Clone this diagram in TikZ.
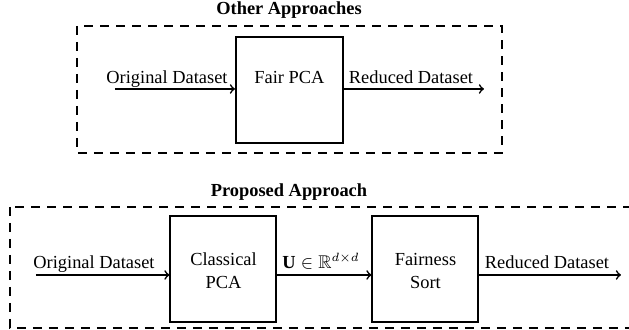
\documentclass[tikz,border=0pt]{standalone}
\usepackage{fontspec}
\setmainfont{Liberation Serif}
\usepackage{amssymb}
\begin{document}
\begin{tikzpicture}[x=0.5pt,y=-0.5pt,
  font=\fontsize{9.2}{10.5}\selectfont,
  dbox/.style={draw,line width=1pt,dash pattern=on 4.5pt off 3.5pt},
  blk/.style={draw,line width=1pt,minimum width=53pt,minimum height=53pt,inner sep=0pt,align=center},
  conn/.style={line width=0.8pt,-to},
  lbl/.style={anchor=base,inner sep=0pt}]
\useasboundingbox (0,0) rectangle (629,330);
% top
\node[font=\fontsize{9.2}{10.5}\selectfont\bfseries] (t1) at (289,10) {Other Approaches};
\draw[dbox] (77,26) rectangle (502,153);
\node[blk,minimum width=53.5pt] (fair) at (289.5,90) {};
\node[lbl] (fairt) at (289.5,84) {Fair PCA};
\coordinate (in1) at (115,89);
\coordinate (out1) at (484,89);
\draw[conn] (in1) -- (fair.west |- in1);
\draw[conn] (fair.east |- in1) -- (out1);
\node[lbl] (l1) at (167,84) {Original Dataset};
\node[lbl] (r1) at (411,84) {Reduced Dataset};
% bottom
\node[font=\fontsize{9.2}{10.5}\selectfont\bfseries] (t2) at (289,192) {Proposed Approach};
\draw[dbox] (10,207) rectangle (640,328);
\node[blk] (cpca) at (223.5,269.5) {};
\node[lbl] (cpt) at (223.5,266) {Classical};
\node[lbl] (cpt2) at (223.5,289) {PCA};
\node[blk] (fs) at (425.5,269.5) {};
\node[lbl] (fst) at (425.5,266) {Fairness};
\node[lbl] (fst2) at (425.5,289) {Sort};
\coordinate (in2) at (36,275);
\coordinate (out2) at (621,275);
\draw[conn] (in2) -- (cpca.west |- in2);
\draw[conn] (cpca.east |- in2) -- (fs.west |- in2);
\draw[conn] (fs.east |- in2) -- (out2);
\node[lbl] (l2) at (94,269) {Original Dataset};
\node[lbl] (u) at (321,269) {$\mathbf{U}\in\mathbb{R}^{d\times d}$};
\node[lbl] (r2) at (547,269) {Reduced Dataset};
\end{tikzpicture}
\end{document}
